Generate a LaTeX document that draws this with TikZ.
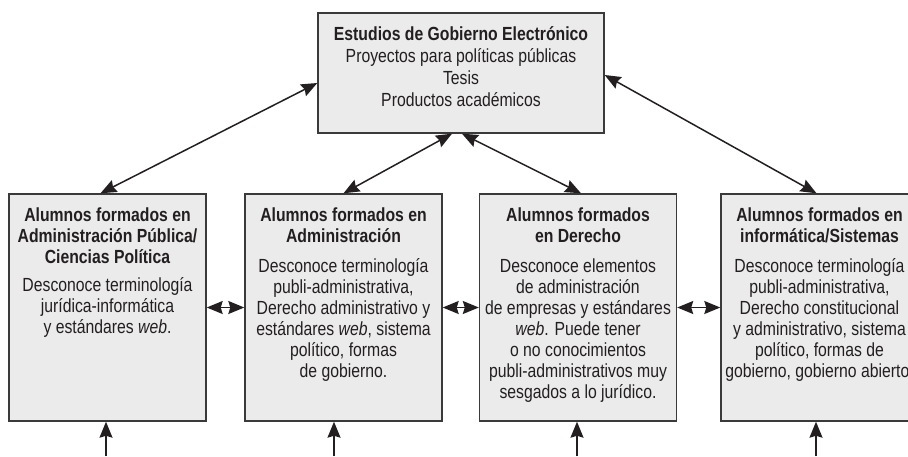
\documentclass[tikz,border=0pt]{standalone}
\usepackage{fontspec}
\setmainfont{Liberation Sans}[FakeStretch=0.83]
\usetikzlibrary{positioning,arrows.meta}
\definecolor{cajagris}{HTML}{EBEBEC}
\definecolor{bordegris}{HTML}{3A3A3A}
\definecolor{tinta}{HTML}{231F20}
\tikzset{
  caja/.style={draw=bordegris, line width=1.4pt, fill=cajagris, minimum width=197pt, minimum height=227pt, inner sep=0pt},
  txt/.style={align=center, inner sep=0pt, text=tinta, font=\fontsize{19pt}{21pt}\selectfont},
  punta/.tip={Stealth[length=16pt,width=13pt,inset=2pt]},
  flecha/.style={punta-punta, line width=1.5pt, draw=tinta},
  sube/.style={-punta, line width=1.5pt, draw=tinta},
}
\begin{document}
\begin{tikzpicture}[x=1pt,y=-1pt]
  \useasboundingbox (0,0) rectangle (908,456);
  % caja superior
  \node[caja, minimum width=286pt, minimum height=120pt] (est) at (461,73) {};
  \node[txt, font=\fontsize{19pt}{22pt}\selectfont, below=14pt of est.north] (estt)
    {\textbf{Estudios de Gobierno Electrónico}\\ Proyectos para políticas públicas\\ Tesis\\ Productos académicos};
  % alumnos
  \node[caja] (apub) at (107.5,307.5) {};
  \node[caja] (admi) at (343.5,307.5) {};
  \node[caja] (dere) at (578,307.5) {};
  \node[caja] (info) at (819.5,307.5) {};
  \node[txt, below=14pt of apub.north] (apubt)
    {\textbf{Alumnos formados en}\\ \textbf{Administración Pública/}\\ \textbf{Ciencias Política}\\[7pt]
     Desconoce terminología\\ jurídica-informática\\ y estándares \emph{web}.};
  \node[txt, below=14pt of admi.north] (admit)
    {\textbf{Alumnos formados en}\\ \textbf{Administración}\\[9pt]
     Desconoce terminología\\ publi-administrativa,\\ Derecho administrativo y\\ estándares \emph{web}, sistema\\ político, formas\\ de gobierno.};
  \node[txt, below=14pt of dere.north] (deret)
    {\textbf{Alumnos formados}\\ \textbf{en Derecho}\\[9pt]
     Desconoce elementos\\ de administración\\ de empresas y estándares\\ \emph{web}. Puede tener\\ o no conocimientos\\ publi-administrativos muy\\ sesgados a lo jurídico.};
  \node[txt, below=14pt of info.north] (infot)
    {\textbf{Alumnos formados en}\\ \textbf{informática/Sistemas}\\[9pt]
     Desconoce terminología\\ publi-administrativa,\\ Derecho constitucional\\ y administrativo, sistema\\ político, formas de\\ gobierno, gobierno abierto.};
  % flechas diagonales
  \draw[flecha] ([yshift=-10pt]est.west) -- ([xshift=-7pt]apub.north);
  \draw[flecha] ([xshift=-9pt]est.south) -- (admi.north);
  \draw[flecha] ([xshift=1pt]est.south) -- ([xshift=3pt]dere.north);
  \draw[flecha] ([yshift=-2pt]est.east) -- ([xshift=-3pt]info.north);
  % flechas entre cajas
  \draw[flecha] (apub.east) -- (admi.west);
  \draw[flecha] (admi.east) -- (dere.west);
  \draw[flecha] (dere.east) -- (info.west);
  % flechas de entrada
  \coordinate (e1) at (106,456);
  \coordinate (e2) at (334,456);
  \coordinate (e3) at (577,456);
  \coordinate (e4) at (816,456);
  \draw[sube] (e1) -- (e1 |- apub.south);
  \draw[sube] (e2) -- (e2 |- admi.south);
  \draw[sube] (e3) -- (e3 |- dere.south);
  \draw[sube] (e4) -- (e4 |- info.south);
\end{tikzpicture}
\end{document}
